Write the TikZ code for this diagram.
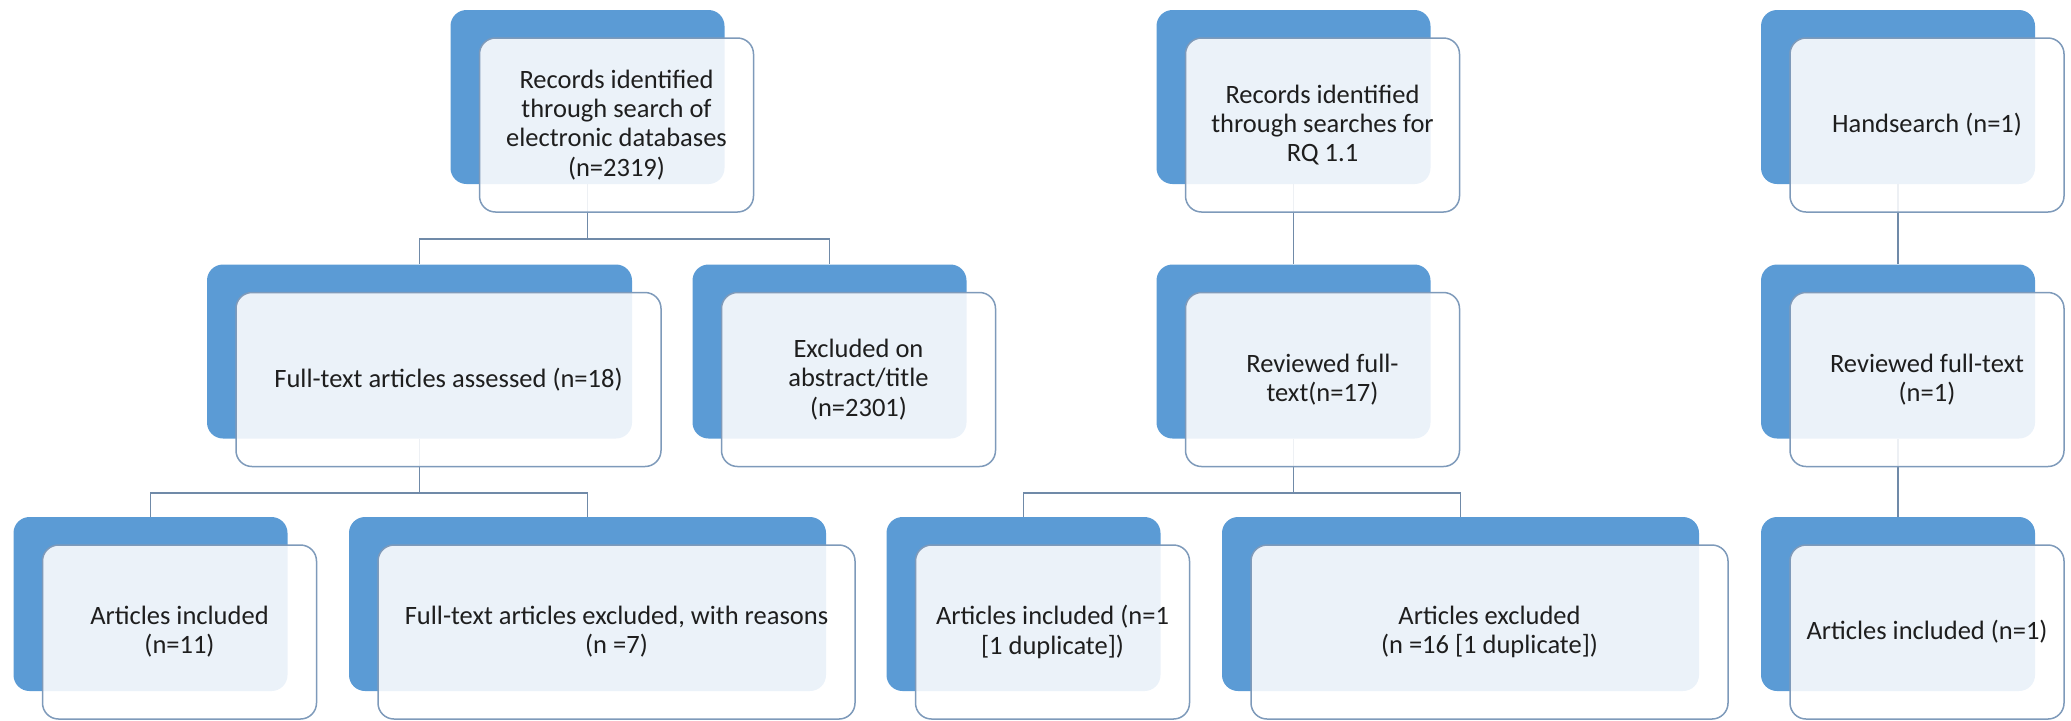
\documentclass[tikz,border=0pt]{standalone}
\usepackage{fontspec}
\setmainfont{Carlito}
\usetikzlibrary{calc}
\definecolor{accent}{RGB}{91,155,213}
\definecolor{rim}{RGB}{126,154,186}
\definecolor{linkcol}{RGB}{112,138,168}
\definecolor{ink}{RGB}{30,30,30}
\begin{document}
\begin{tikzpicture}[x=0.5pt, y=-0.5pt,
    back/.style={rectangle, rounded corners=8pt, fill=accent, minimum height=87pt, inner sep=0pt},
    front/.style={rectangle, rounded corners=8pt, draw=rim, line width=0.75pt, fill=white,
        fill opacity=0.88, text opacity=1, minimum height=87pt, inner sep=2pt, align=center,
        text=ink, font=\fontsize{13.25}{14.6}\selectfont},
    small/.style={minimum width=137pt},
    wide/.style={minimum width=212.5pt},
    wider/.style={minimum width=238.5pt},
    link/.style={draw=linkcol, line width=0.8pt}]
    \useasboundingbox (0,0) rectangle (2071,720);

    % back plates
    \node[back, small] (recb) at (587.5,97) {};
    \node[back, small] (rqb) at (1293.5,97) {};
    \node[back, small] (handb) at (1898,97) {};
    \node[back, wide] (assb) at (419.5,351.5) {};
    \node[back, small] (exab) at (829.5,351.5) {};
    \node[back, small] (revb) at (1293.5,351.5) {};
    \node[back, small] (rev1b) at (1898,351.5) {};
    \node[back, small] (inclb) at (150.5,604) {};
    \node[back, wider] (exclb) at (587.5,604) {};
    \node[back, small] (inc2b) at (1023.5,604) {};
    \node[back, wider] (exc2b) at (1460.5,604) {};
    \node[back, small] (inc3b) at (1898,604) {};

    % connectors
    \draw[link] (recb.south) -- ++(0,54.5) coordinate (busA);
    \draw[link] (assb.north) |- (busA) -| (exab.north);
    \draw[link] (assb.south) -- ++(0,54) coordinate (busB);
    \draw[link] (inclb.north) |- (busB) -| (exclb.north);
    \draw[link] (rqb.south) -- (revb.north);
    \draw[link] (revb.south) -- ++(0,54) coordinate (busC);
    \draw[link] (inc2b.north) |- (busC) -| (exc2b.north);
    \draw[link] (handb.south) -- (rev1b.north);
    \draw[link] (rev1b.south) -- (inc3b.north);

    % front boxes
    \node[front, small] (rec) at ($(recb)+(29,28)$) {Records identified\\through search of\\electronic databases\\(n=2319)};
    \node[front, small] (rq) at ($(rqb)+(29,28)$) {Records identified\\through searches for\\RQ 1.1};
    \node[front, small] (hand) at ($(handb)+(29,28)$) {Handsearch (n=1)};
    \node[front, wide] (ass) at ($(assb)+(29,28)$) {Full-text articles assessed (n=18)};
    \node[front, small] (exa) at ($(exab)+(29,28)$) {Excluded on\\abstract/title\\(n=2301)};
    \node[front, small] (rev) at ($(revb)+(29,28)$) {Reviewed full-\\text(n=17)};
    \node[front, small] (rev1) at ($(rev1b)+(29,28)$) {Reviewed full-text\\(n=1)};
    \node[front, small] (incl) at ($(inclb)+(29,28)$) {Articles included\\(n=11)};
    \node[front, wider] (excl) at ($(exclb)+(29,28)$) {Full-text articles excluded, with reasons\\(n =7)};
    \node[front, small] (inc2) at ($(inc2b)+(29,28)$) {Articles included (n=1\\{[1 duplicate])}};
    \node[front, wider] (exc2) at ($(exc2b)+(29,28)$) {Articles excluded\\(n =16 [1 duplicate])};
    \node[front, small] (inc3) at ($(inc3b)+(29,28)$) {Articles included (n=1)};
\end{tikzpicture}
\end{document}
